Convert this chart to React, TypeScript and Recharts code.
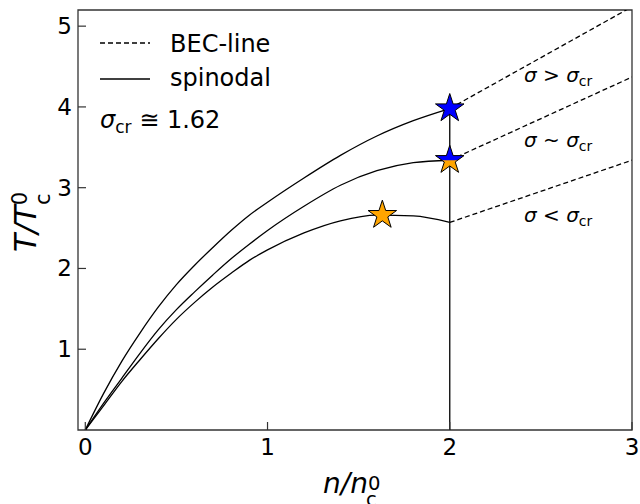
import { ComposedChart, Line, Scatter, XAxis, YAxis, ReferenceArea } from 'recharts';

const FONT = '"DejaVu Sans", sans-serif';
const BLUE = '#0000ff';
const ORANGE = '#ffa500';
const AXIS = '#333333';

// spinodal curves, T/Tc0 against n/nc0
const nGrid = [0, 0.1, 0.2, 0.3, 0.4, 0.5, 0.6, 0.7, 0.8, 0.9, 1.0, 1.2, 1.4, 1.6, 1.8, 2.0];
const spinodalHigh = [0, 0.45, 0.85, 1.2, 1.52, 1.8, 2.04, 2.26, 2.47, 2.66, 2.82, 3.12, 3.4, 3.64, 3.83, 3.98];
const spinodalMid = [0, 0.33, 0.64, 0.95, 1.24, 1.49, 1.71, 1.92, 2.12, 2.3, 2.47, 2.77, 3.03, 3.21, 3.31, 3.34];
const spinodalLow = [0, 0.3, 0.6, 0.87, 1.13, 1.37, 1.58, 1.77, 1.94, 2.1, 2.23, 2.44, 2.59, 2.66, 2.65, 2.57];

// BEC lines beyond n = 2
const becX = [2, 3];
const becHigh = [3.98, 5.24];
const becMid = [3.34, 4.37];
const becLow = [2.57, 3.34];

// vertical spinodal at n = 2
const wallX = [2, 2];
const wallY = [0, 3.98];

// critical points
const blueStars = [{ x: 2, y: 3.98 }];
const splitStars = [{ x: 2, y: 3.34 }];
const orangeStars = [{ x: 1.63, y: 2.66 }];

const xTicks = [0, 1, 2, 3];
const yTicks = [1, 2, 3, 4, 5];

const toPoints = (xs: number[], ys: number[]) => xs.map((x, i) => ({ x, y: ys[i] }));

const R = 15;
const starPoints = (cx: number, cy: number, r0: number) => {
  const ri = r0 * 0.382;
  const pts: string[] = [];
  for (let i = 0; i < 10; i++) {
    const a = -Math.PI / 2 + (i * Math.PI) / 5;
    const rad = i % 2 === 0 ? r0 : ri;
    pts.push(`${cx + rad * Math.cos(a)},${cy + rad * Math.sin(a)}`);
  }
  return pts.join(' ');
};

const BlueStar = (props: any) => (
  <polygon points={starPoints(props.cx, props.cy, R)} fill={BLUE} stroke="#000" strokeWidth={1} />
);
const OrangeStar = (props: any) => (
  <polygon points={starPoints(props.cx, props.cy, R)} fill={ORANGE} stroke="#000" strokeWidth={1} />
);
const SplitStar = (props: any) => {
  const { cx, cy } = props;
  return (
    <g>
      <defs>
        <clipPath id="star-top-half">
          <rect x={cx - R - 2} y={cy - R - 2} width={2 * R + 4} height={R + 2} />
        </clipPath>
      </defs>
      <polygon points={starPoints(cx, cy, R)} fill={ORANGE} />
      <polygon points={starPoints(cx, cy, R)} fill={BLUE} clipPath="url(#star-top-half)" />
      <polygon points={starPoints(cx, cy, R)} fill="none" stroke="#000" strokeWidth={1} />
    </g>
  );
};

const XTick = ({ x, y, payload }: any) => (
  <g>
    <line x1={x} x2={x} y1={y} y2={y - 8} stroke={AXIS} strokeWidth={1.2} />
    <text x={x} y={y + 25} textAnchor="middle" fontFamily={FONT} fontSize={23} fill="#000">
      {payload.value}
    </text>
  </g>
);

const YTick = ({ x, y, payload }: any) => (
  <g>
    <line x1={x} x2={x + 8} y1={y} y2={y} stroke={AXIS} strokeWidth={1.2} />
    <text x={x - 6} y={y + 8} textAnchor="end" fontFamily={FONT} fontSize={23} fill="#000">
      {payload.value}
    </text>
  </g>
);

const Sigma = () => <tspan fontStyle="italic">σ</tspan>;

export default function App() {
  return (
    <div style={{ position: 'absolute', left: 0, top: 0, width: 640, height: 504 }}>
      <ComposedChart width={640} height={504} margin={{ top: 10, right: 8, left: 0, bottom: 0 }}>
        <XAxis
          dataKey="x"
          type="number"
          domain={[-0.04, 3]}
          ticks={xTicks}
          allowDataOverflow
          height={74}
          axisLine={false}
          tickLine={false}
          tickSize={0}
          tickMargin={0}
          tick={<XTick />}
        />
        <YAxis
          type="number"
          domain={[0, 5.2]}
          ticks={yTicks}
          allowDataOverflow
          width={78}
          axisLine={false}
          tickLine={false}
          tickSize={0}
          tickMargin={0}
          tick={<YTick />}
        />
        <ReferenceArea x1={-0.04} x2={3} y1={0} y2={5.2} fill="none" stroke={AXIS} strokeWidth={1.3} />
        <Line data={toPoints(nGrid, spinodalHigh)} dataKey="y" type="monotone" stroke="#000" strokeWidth={1.3} dot={false} isAnimationActive={false} />
        <Line data={toPoints(nGrid, spinodalMid)} dataKey="y" type="monotone" stroke="#000" strokeWidth={1.3} dot={false} isAnimationActive={false} />
        <Line data={toPoints(nGrid, spinodalLow)} dataKey="y" type="monotone" stroke="#000" strokeWidth={1.3} dot={false} isAnimationActive={false} />
        <Line data={toPoints(wallX, wallY)} dataKey="y" type="linear" stroke="#000" strokeWidth={1.3} dot={false} isAnimationActive={false} />
        <Line data={toPoints(becX, becHigh)} dataKey="y" type="linear" stroke="#000" strokeWidth={1.3} strokeDasharray="5 3" dot={false} isAnimationActive={false} />
        <Line data={toPoints(becX, becMid)} dataKey="y" type="linear" stroke="#000" strokeWidth={1.3} strokeDasharray="5 3" dot={false} isAnimationActive={false} />
        <Line data={toPoints(becX, becLow)} dataKey="y" type="linear" stroke="#000" strokeWidth={1.3} strokeDasharray="5 3" dot={false} isAnimationActive={false} />
        <Scatter data={orangeStars} dataKey="y" shape={<OrangeStar />} isAnimationActive={false} />
        <Scatter data={splitStars} dataKey="y" shape={<SplitStar />} isAnimationActive={false} />
        <Scatter data={blueStars} dataKey="y" shape={<BlueStar />} isAnimationActive={false} />
      </ComposedChart>

      {/* legend, annotations and axis titles */}
      <svg width={640} height={504} style={{ position: 'absolute', left: 0, top: 0, pointerEvents: 'none' }} fontFamily={FONT}>
        <line x1={100} x2={150} y1={43} y2={43} stroke="#000" strokeWidth={1.3} strokeDasharray="5 3" />
        <text x={170} y={52} fontSize={24}>BEC-line</text>
        <line x1={100} x2={150} y1={79} y2={79} stroke="#000" strokeWidth={1.3} />
        <text x={170} y={86} fontSize={24}>spinodal</text>

        <text x={100} y={128} fontSize={24}>
          <Sigma />
          <tspan fontSize={17} dy={5}>cr</tspan>
          <tspan dy={-5}> ≅ 1.62</tspan>
        </text>

        <text x={524} y={82} fontSize={20}>
          <Sigma /> &gt; <Sigma />
          <tspan fontSize={14} dy={4}>cr</tspan>
        </text>
        <text x={524} y={147} fontSize={20}>
          <Sigma /> ~ <Sigma />
          <tspan fontSize={14} dy={4}>cr</tspan>
        </text>
        <text x={524} y={222} fontSize={20}>
          <Sigma /> &lt; <Sigma />
          <tspan fontSize={14} dy={4}>cr</tspan>
        </text>

        <text x={323} y={493} fontSize={28}>
          <tspan fontStyle="italic">n/n</tspan>
          <tspan fontSize={19.6} dy={-3}>0</tspan>
        </text>
        <text x={366} y={506} fontSize={19.6}>c</text>

        <text x={36} y={252} fontSize={30} transform="rotate(-90 36 252)">
          <tspan fontStyle="italic">T/T</tspan>
          <tspan fontSize={21} dy={-9}>0</tspan>
        </text>
        <text x={50} y={205} fontSize={21} transform="rotate(-90 50 205)">c</text>
      </svg>
    </div>
  );
}
